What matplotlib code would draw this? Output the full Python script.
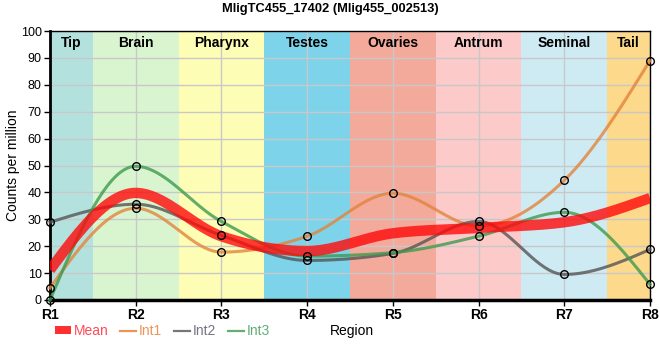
import numpy as np
import matplotlib
matplotlib.use("Agg")
import matplotlib.pyplot as plt
from matplotlib.lines import Line2D
from matplotlib.patches import Patch

plt.rcParams['font.family'] = ['Liberation Sans', 'DejaVu Sans']

title = "MligTC455_17402 (Mlig455_002513)"
regions = ["R1", "R2", "R3", "R4", "R5", "R6", "R7", "R8"]
section_names = ["Tip", "Brain", "Pharynx", "Testes", "Ovaries", "Antrum", "Seminal", "Tail"]
section_colors = ["#b3e2de", "#d9f5d0", "#fdfdb6", "#7dd4ea", "#f4aa9b", "#fdcaca", "#ceebf4", "#fdd98b"]

mean_vals = [11.2, 39.8, 23.7, 18.2, 24.8, 26.8, 28.9, 37.9]
int1_vals = [4.5, 34.1, 17.8, 23.7, 39.7, 27.5, 44.5, 89.0]
int2_vals = [28.9, 35.6, 24.0, 14.7, 17.3, 29.2, 9.5, 18.8]
int3_vals = [0.0, 49.7, 29.2, 16.3, 17.6, 23.7, 32.6, 5.8]


def monotone_curve(xs, ys, n=40):
    xs = np.asarray(xs, float)
    ys = np.asarray(ys, float)
    h = np.diff(xs)
    s = np.diff(ys) / h
    m = len(xs)
    t = np.zeros(m)
    for i in range(1, m - 1):
        s0, s1 = s[i - 1], s[i]
        p = (s0 * h[i] + s1 * h[i - 1]) / (h[i - 1] + h[i])
        sg = (-1 if s0 < 0 else 1) + (-1 if s1 < 0 else 1)
        t[i] = sg * min(abs(s0), abs(s1), 0.5 * abs(p))
    t[0] = (3 * s[0] - t[1]) / 2
    t[-1] = (3 * s[-1] - t[-2]) / 2
    X, Y = [], []
    for i in range(m - 1):
        u = np.linspace(0, 1, n)
        dx = h[i]
        h00 = 2 * u**3 - 3 * u**2 + 1
        h10 = u**3 - 2 * u**2 + u
        h01 = -2 * u**3 + 3 * u**2
        h11 = u**3 - u**2
        y = h00 * ys[i] + h10 * dx * t[i] + h01 * ys[i + 1] + h11 * dx * t[i + 1]
        X.append(xs[i] + dx * u)
        Y.append(y)
    return np.concatenate(X), np.concatenate(Y)


fig = plt.figure(figsize=(6.6, 3.6), dpi=100)
ax = fig.add_axes([50 / 660, 1 - 300 / 360, 600 / 660, 269 / 360])

x = np.arange(1, len(regions) + 1)
last = len(regions) - 1
for i, (name, col) in enumerate(zip(section_names, section_colors)):
    ax.axvspan(x[i] - 0.5, x[i] + 0.5, color=col, lw=0, zorder=0.5)
    if i == 0:
        tx = x[i] + 0.25
    elif i == last:
        tx = x[i] - 0.25
    else:
        tx = x[i]
    ax.text(tx, 95.5, name, ha='center', va='center', fontsize=10, fontweight='bold', zorder=5)

ax.set_xlim(1, 8)
ax.set_ylim(0, 100)
ax.set_xticks(x)
ax.set_xticklabels(regions, fontsize=10, fontweight='bold')
ax.set_yticks(np.arange(0, 101, 10))
ax.tick_params(axis='y', labelsize=9, length=4, width=1, pad=2)
ax.tick_params(axis='x', length=4, width=1, pad=1.5)
ax.grid(True, color='#c8c8c8', lw=1, zorder=1.5)

series = [
    ("Int1", int1_vals, '#e3843c', 2.2),
    ("Int2", int2_vals, '#555555', 2.2),
    ("Int3", int3_vals, '#3e9a4e', 2.2),
]
for name, vals, col, lw in series:
    cx, cy = monotone_curve(x, vals)
    ax.plot(cx, cy, color=col, lw=lw, alpha=0.8, zorder=3, clip_on=False)

mx, my = monotone_curve(x, mean_vals)
ax.plot(mx, my, color='#ff0a0a', lw=7.5, alpha=0.8, zorder=4, solid_capstyle='butt')

for name, vals, col, lw in series:
    ax.plot(x, vals, linestyle='none', marker='o', ms=5.5, mfc='none', mec='black', mew=1,
            zorder=6, clip_on=False)

for side in ['top', 'right']:
    ax.spines[side].set_linewidth(1)
ax.spines['left'].set_linewidth(2)
ax.spines['bottom'].set_linewidth(2.5)

ax.set_ylabel("Counts per million", fontsize=10)
ax.yaxis.set_label_coords(-30 / 600, (300 - 165) / 269)
ax.set_xlabel("Region", fontsize=10)
ax.xaxis.set_label_coords(302 / 600, -31 / 269)
ax.xaxis.label.set_va('center')

fig.suptitle(title, fontsize=9.3, fontweight='bold', y=1 - 9 / 360, va='center', x=0.5)

handles = [
    Patch(facecolor='#ff3030', edgecolor='none'),
    Line2D([], [], color='#e3843c', lw=1.6, alpha=0.85),
    Line2D([], [], color='#555555', lw=1.6, alpha=0.8),
    Line2D([], [], color='#3e9a4e', lw=1.6, alpha=0.8),
]
labels = ["Mean", "Int1", "Int2", "Int3"]
leg = fig.legend(handles, labels, loc='center left', bbox_to_anchor=(55 / 660, 1 - 331 / 360),
                 ncol=4, frameon=False, fontsize=10, handlelength=1.15, handleheight=0.5,
                 handletextpad=0.2, columnspacing=0.85, borderaxespad=0, borderpad=0)
for txt, col in zip(leg.get_texts(), ['#ff4a55', '#eb955a', '#747484', '#62ad76']):
    txt.set_color(col)

fig.savefig("out.png", dpi=100)
